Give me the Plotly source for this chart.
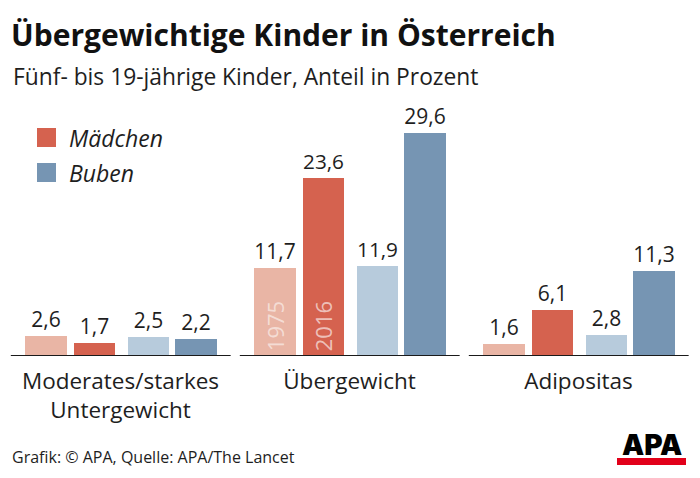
import plotly.graph_objects as go

# ---- data ----
categories = ["Moderates/starkes<br>Untergewicht", "Übergewicht", "Adipositas"]
maedchen_1975 = [2.6, 11.7, 1.6]
maedchen_2016 = [1.7, 23.6, 6.1]
buben_1975 = [2.5, 11.9, 2.8]
buben_2016 = [2.2, 29.6, 11.3]
years = ["1975", "2016"]
legend_labels = ["Mädchen", "Buben"]

title_text = "Übergewichtige Kinder in Österreich"
subtitle_text = "Fünf- bis 19-jährige Kinder, Anteil in Prozent"
source_text = "Grafik: © APA, Quelle: APA/The Lancet"

# ---- styles ----
FONT = "Open Sans, Noto Sans, DejaVu Sans, sans-serif"
TXT = "#1e1e1e"
C_M75 = "#e9b5a5"
C_M16 = "#d5624f"
C_B75 = "#b7cbdc"
C_B16 = "#7695b3"
BAR_W = 0.181
OFFSETS = [-0.415, -0.205, 0.032, 0.239]

# page body has an 8px margin: figure is placed at (8, 8)
SHIFT = 8
W, H = 684, 462
M_T = 90
PLOT_BOTTOM = 356 - SHIFT
M_B = H - PLOT_BOTTOM
PLOT_H = PLOT_BOTTOM - M_T
PX_PER_UNIT = 7.54
Y_MAX = PLOT_H / PX_PER_UNIT
GROUP0_CENTER = 120.5 - SHIFT
UNIT = 229.0
X_RANGE = [-GROUP0_CENTER / UNIT, (W - GROUP0_CENTER) / UNIT]


def py(ref_pix):
    """reference pixel y (from top) -> paper y"""
    return (PLOT_BOTTOM - (ref_pix - SHIFT)) / PLOT_H


def px(ref_pix):
    return (ref_pix - SHIFT) / W


fig = go.Figure()
series = [
    (maedchen_1975, C_M75),
    (maedchen_2016, C_M16),
    (buben_1975, C_B75),
    (buben_2016, C_B16),
]
for (vals, col), off in zip(series, OFFSETS):
    fig.add_trace(go.Bar(
        x=categories, y=vals, width=BAR_W, offset=off,
        marker=dict(color=col, line=dict(width=0)),
        texttemplate="%{y:.1f}", textposition="outside",
        textfont=dict(family=FONT, size=21, color=TXT),
        cliponaxis=False, showlegend=False, hoverinfo="skip",
    ))

shapes = []
# baselines for each group
for i in range(len(categories)):
    shapes.append(dict(type="line", xref="x", yref="y",
                       x0=i - 0.479, x1=i + 0.481, y0=0, y1=0,
                       line=dict(color="#1a1a1a", width=2)))

annotations = []
# year labels inside bars of the middle group
for k, (yr, col) in enumerate(zip(years, ["rgba(255,255,255,0.55)", "rgba(255,255,255,0.62)"])):
    annotations.append(dict(
        x=1 + OFFSETS[k] + BAR_W / 2, y=0, xref="x", yref="y",
        text=yr, textangle=-90, showarrow=False,
        xanchor="center", yanchor="bottom", yshift=3,
        font=dict(family=FONT, size=22, color=col)))

# custom legend
leg_cols = [C_M16, C_B16]
leg_tops = [128, 163]
for lab, col, top in zip(legend_labels, leg_cols, leg_tops):
    shapes.append(dict(type="rect", xref="paper", yref="paper",
                       x0=px(37), x1=px(56), y0=py(top + 19), y1=py(top),
                       fillcolor=col, line=dict(width=0)))
    annotations.append(dict(
        x=px(67), y=py(top + 9.5), xref="paper", yref="paper",
        text="<i>" + lab + "</i>", showarrow=False,
        xanchor="left", yanchor="middle",
        font=dict(family=FONT, size=23, color=TXT)))

# subtitle
annotations.append(dict(
    x=px(11), y=py(76), xref="paper", yref="paper", text=subtitle_text,
    showarrow=False, xanchor="left", yanchor="middle",
    font=dict(family=FONT, size=22.8, color=TXT)))

# source
annotations.append(dict(
    x=px(10), y=py(457), xref="paper", yref="paper", text=source_text,
    showarrow=False, xanchor="left", yanchor="middle",
    font=dict(family=FONT, size=16, color=TXT)))

# APA logo
shapes.append(dict(type="rect", xref="paper", yref="paper",
                   x0=px(617), x1=px(686), y0=py(465), y1=py(458),
                   fillcolor="#e2001a", line=dict(width=0)))
annotations.append(dict(
    x=px(651.5), y=py(458), xref="paper", yref="paper", text="APA",
    showarrow=False, xanchor="center", yanchor="bottom", yshift=-6,
    font=dict(family="Inter, Roboto, Liberation Sans, sans-serif", size=28,
              weight=900, color="#000000")))

fig.update_layout(
    width=W, height=H,
    margin=dict(l=0, r=0, t=M_T, b=M_B, pad=0),
    paper_bgcolor="white", plot_bgcolor="white",
    separators=",.",
    title=dict(text="<b>" + title_text + "</b>", x=px(11), xanchor="left",
               xref="paper", y=1 - (35 - SHIFT) / H, yanchor="middle",
               yref="container",
               font=dict(family=FONT, size=30, color="#111111")),
    xaxis=dict(range=X_RANGE, showgrid=False, zeroline=False,
               showline=False, ticks="", ticklabelstandoff=9,
               tickfont=dict(family=FONT, size=22.5, color=TXT),
               fixedrange=True),
    yaxis=dict(range=[0, Y_MAX], visible=False, fixedrange=True),
    shapes=shapes, annotations=annotations,
    showlegend=False, bargap=0,
)

fig.write_html("out.html")
